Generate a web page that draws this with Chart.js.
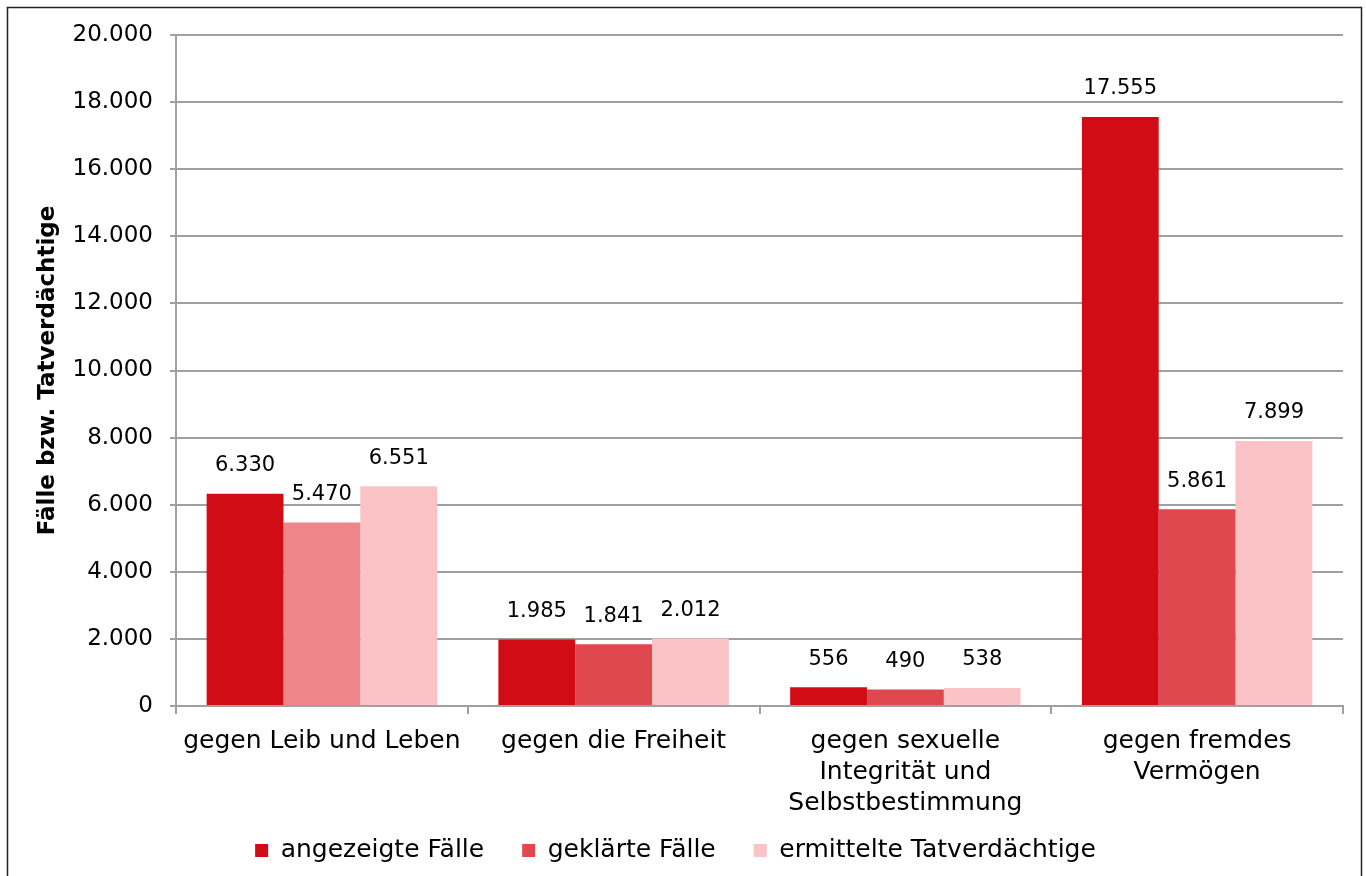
<!DOCTYPE html>
<html>
<head>
<meta charset="utf-8">
<script src="https://cdn.jsdelivr.net/npm/chart.js@4"></script>
<style>
html,body{margin:0;padding:0;background:#fff;}
#wrap{position:relative;width:1366px;height:876px;}
</style>
</head>
<body>
<div id="wrap"><canvas id="c" width="1366" height="876"></canvas></div>
<script>
const categories = [
  "gegen Leib und Leben",
  "gegen die Freiheit",
  ["gegen sexuelle", "Integrität und", "Selbstbestimmung"],
  ["gegen fremdes", "Vermögen"]
];
const seriesNames = ["angezeigte Fälle", "geklärte Fälle", "ermittelte Tatverdächtige"];
const angezeigteFaelle = [6330, 1985, 556, 17555];
const geklaerteFaelle = [5470, 1841, 490, 5861];
const ermittelteTatverdaechtige = [6551, 2012, 538, 7899];
const yTicks = [0, 2000, 4000, 6000, 8000, 10000, 12000, 14000, 16000, 18000, 20000];

function fmt(v){
  const s = String(Math.round(v));
  return s.replace(/\B(?=(\d{3})+(?!\d))/g, ".");
}

const FONT = "'DejaVu Sans', sans-serif";

const borderPlugin = {
  id: 'outerBorder',
  beforeDraw(chart){
    const ctx = chart.ctx;
    ctx.save();
    ctx.fillStyle = '#fff';
    ctx.fillRect(0,0,chart.width,chart.height);
    ctx.strokeStyle = '#222';
    ctx.lineWidth = 1.5;
    ctx.strokeRect(7.5, 7.5, 1354, 900);
    ctx.restore();
  }
};

const valueLabels = {
  id: 'valueLabels',
  afterDatasetsDraw(chart){
    const ctx = chart.ctx;
    ctx.save();
    ctx.font = "21px " + FONT;
    ctx.fillStyle = '#000';
    ctx.textAlign = 'center';
    ctx.textBaseline = 'middle';
    chart.data.datasets.forEach((ds, i) => {
      const meta = chart.getDatasetMeta(i);
      meta.data.forEach((bar, j) => {
        ctx.fillText(fmt(ds.data[j]), bar.x, bar.y - 28);
      });
    });
    ctx.restore();
  }
};

new Chart(document.getElementById('c'), {
  type: 'bar',
  data: {
    labels: categories,
    datasets: [
      { label: seriesNames[0], data: angezeigteFaelle, backgroundColor: '#D20C14' },
      { label: seriesNames[1], data: geklaerteFaelle, backgroundColor: ['#EE8588', '#E04850', '#E04850', '#E04850'] },
      { label: seriesNames[2], data: ermittelteTatverdaechtige, backgroundColor: '#FAC3C5' }
    ]
  },
  options: {
    responsive: false,
    animation: false,
    devicePixelRatio: 1,
    layout: { padding: { left: 8, right: 23, top: 35, bottom: 3 } },
    datasets: { bar: { barPercentage: 1.0, categoryPercentage: 0.79, borderWidth: 0 } },
    plugins: {
      tooltip: { enabled: false },
      legend: {
        position: 'bottom',
        labels: {
          color: '#000',
          font: { family: FONT, size: 25 },
          boxWidth: 13,
          boxHeight: 13,
          padding: 38,
          generateLabels(chart){
            return chart.data.datasets.map((ds, i) => ({
              text: ds.label,
              fillStyle: i === 1 ? '#E04850' : ds.backgroundColor,
              strokeStyle: 'rgba(0,0,0,0)',
              lineWidth: 0,
              datasetIndex: i,
              hidden: false
            }));
          }
        }
      }
    },
    scales: {
      x: {
        offset: true,
        grid: { display: true, drawOnChartArea: false, offset: true, color: '#A0A0A0', lineWidth: 2, tickLength: 8 },
        border: { display: true, color: '#A0A0A0', width: 2 },
        ticks: { color: '#000', font: { family: FONT, size: 25, lineHeight: 1.24 }, padding: 12, maxRotation: 0, autoSkip: false },
        afterFit(scale){
          scale.height = 94;
          scale._computeLabelArea = function(){ return undefined; };
        }
      },
      y: {
        min: 0, max: 20000,
        afterBuildTicks(scale){ scale.ticks = yTicks.map(v => ({ value: v })); },
        grid: { color: '#A0A0A0', lineWidth: 2, tickLength: 6 },
        border: { display: true, color: '#A0A0A0', width: 2 },
        ticks: { color: '#000', font: { family: FONT, size: 23 }, padding: 17, callback: v => fmt(v) },
        title: { display: true, text: 'Fälle bzw. Tatverdächtige', color: '#000', font: { family: FONT, size: 23, weight: 'bold' }, padding: { top: 26, bottom: 0 } },
        afterFit(scale){ scale.width = 168; }
      }
    }
  },
  plugins: [borderPlugin, valueLabels]
});
</script>
</body>
</html>
